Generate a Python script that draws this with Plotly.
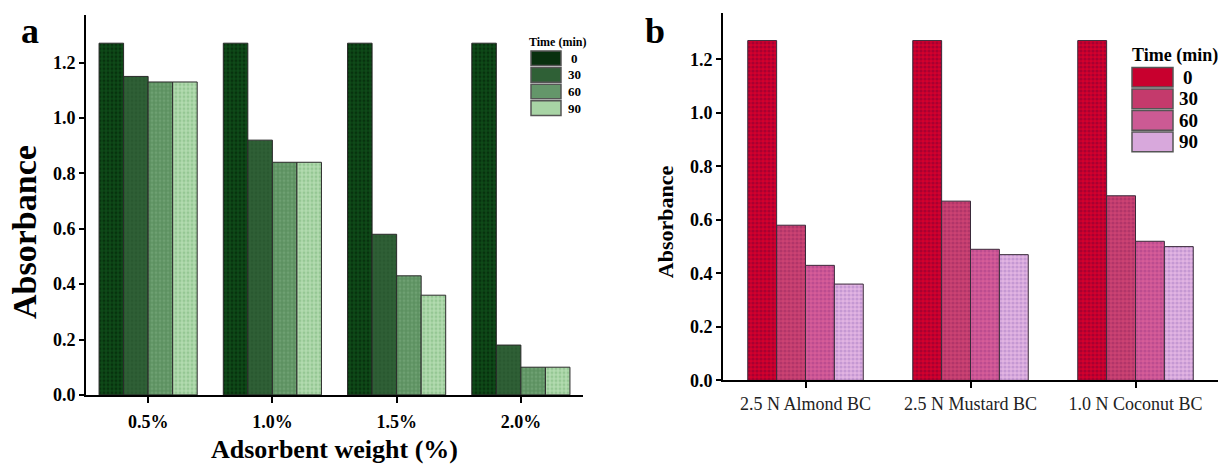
import plotly.graph_objects as go

# ---------------- data ----------------
times = ["0", "30", "60", "90"]

weights = ["0.5%", "1.0%", "1.5%", "2.0%"]
abs_a_0 = [1.27, 1.27, 1.27, 1.27]
abs_a_30 = [1.15, 0.92, 0.58, 0.18]
abs_a_60 = [1.13, 0.84, 0.43, 0.10]
abs_a_90 = [1.13, 0.84, 0.36, 0.10]

biochars = ["2.5 N Almond BC", "2.5 N Mustard BC", "1.0 N Coconut BC"]
abs_b_0 = [1.27, 1.27, 1.27]
abs_b_30 = [0.58, 0.67, 0.69]
abs_b_60 = [0.43, 0.49, 0.52]
abs_b_90 = [0.36, 0.47, 0.50]

yticks = [0.0, 0.2, 0.4, 0.6, 0.8, 1.0, 1.2]

# ---------------- styles ----------------
W, H = 1218, 469
FONT = "Liberation Serif"
green_bg = ["#0f4a18", "#2f6036", "#5c9060", "#b3dbb0"]
green_fg = ["#001a04", "#24502a", "#80b083", "#78b478"]
red_bg = ["#d4002c", "#cc4272", "#d65c98", "#e2b4e2"]
red_fg = ["#7a0036", "#962860", "#a23c86", "#a87cc4"]

fig = go.Figure()

series_a = [abs_a_0, abs_a_30, abs_a_60, abs_a_90]
series_b = [abs_b_0, abs_b_30, abs_b_60, abs_b_90]

wa, wb = 0.1975, 0.175
for i, t in enumerate(times):
    fig.add_trace(go.Bar(
        x=weights, y=series_a[i], name=t, xaxis="x", yaxis="y",
        showlegend=False, width=wa, offset=-2 * wa + wa * i,
        marker=dict(color=green_bg[i],
                    line=dict(color="#2a2a2a", width=1),
                    pattern=dict(shape=".", fgcolor=green_fg[i], bgcolor=green_bg[i],
                                 size=4, solidity=0.45)),
    ))
for i, t in enumerate(times):
    fig.add_trace(go.Bar(
        x=biochars, y=series_b[i], name=t, xaxis="x2", yaxis="y2",
        showlegend=False, width=wb, offset=-2 * wb + wb * i,
        marker=dict(color=red_bg[i],
                    line=dict(color="#3a2a3a", width=1),
                    pattern=dict(shape=".", fgcolor=red_fg[i], bgcolor=red_bg[i],
                                 size=4, solidity=0.5)),
    ))

def px(x):
    return x / W

def py(y):
    return 1 - y / H

axis_common = dict(showline=True, linecolor="black", linewidth=2, showgrid=False,
                   zeroline=False, ticks="outside", tickcolor="black", tickwidth=1.5)

fig.update_layout(
    width=W, height=H,
    margin=dict(l=0, r=0, t=0, b=0),
    paper_bgcolor="white", plot_bgcolor="white",
    barmode="group",
    showlegend=False,
    font=dict(family=FONT, color="black"),
    xaxis=dict(domain=[px(86), px(583)], anchor="y", range=[-0.5, 3.5],
               tickfont=dict(family=FONT, size=18, color="black", weight="bold"),
               ticklen=6, ticklabelstandoff=4, **axis_common,
               title=dict(text="<b>Adsorbent weight (%)</b>", font=dict(size=26, family=FONT),
                          standoff=8)),
    yaxis=dict(domain=[py(403.5), py(15)], anchor="x", range=[0, 1.373],
               tickvals=yticks, ticktext=[f"{v:.1f}" for v in yticks],
               tickfont=dict(family=FONT, size=18, color="black", weight="bold"),
               ticklen=5, **axis_common),
    xaxis2=dict(domain=[px(723), 1.0], anchor="y2", range=[-0.5, 2.5],
                tickfont=dict(family=FONT, size=18, color="#222"),
                ticklen=6, **axis_common),
    yaxis2=dict(domain=[py(388.7), py(13.3)], anchor="x2", range=[0, 1.373],
                tickvals=yticks, ticktext=[f"{v:.1f}" for v in yticks],
                tickfont=dict(family=FONT, size=18, color="black", weight="bold"),
                ticklen=5, **axis_common),
)

def note(text, x, y, size, angle=0, xanchor="center"):
    fig.add_annotation(text=text, x=px(x), y=py(y), xref="paper", yref="paper",
                       xanchor=xanchor, yanchor="middle", textangle=angle,
                       showarrow=False, font=dict(size=size, family=FONT, color="black"))

# y-axis titles (placed as in the reference, below the domain centre)
note("<b>Absorbance</b>", 25, 237, 34, angle=-90)
note("<b>Absorbance</b>", 665, 227, 22, angle=-90)

# panel letters
note("<b>a</b>", 30, 32, 36)
note("<b>b</b>", 655, 32, 36)

# custom legends
def legend(x0, x1, ytop, h, step, title_x, title_y, title_size, label_x, label_size, colors, edge):
    note("<b>Time (min)</b>", title_x, title_y, title_size)
    for i, t in enumerate(times):
        y0 = ytop + step * i
        fig.add_shape(type="rect", xref="paper", yref="paper",
                      x0=px(x0), x1=px(x1), y0=py(y0), y1=py(y0 + h),
                      fillcolor=colors[i], line=dict(color=edge, width=1.5))
        note(f"<b>{t}</b>", label_x, y0 + h / 2, label_size)

legend(531, 561, 52, 15, 17, 557, 43, 12, 574, 13,
       ["#08300e", "#2f6036", "#64966a", "#a8d4a5"], "#555")
legend(1132, 1173, 69, 20, 22, 1175, 57, 18, 1188, 19,
       ["#c8002e", "#c43a6c", "#cc5a94", "#d8a8dc"], "#555")

fig.write_html("out.html")
